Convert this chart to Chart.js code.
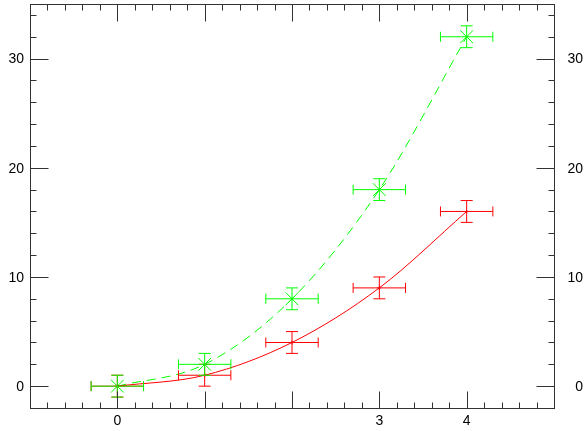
<!DOCTYPE html>
<html>
<head>
<meta charset="utf-8">
<script src="https://cdn.jsdelivr.net/npm/chart.js@4/dist/chart.umd.min.js"></script>
<style>
  html, body { margin: 0; padding: 0; background: #fff; }
  #wrap { width: 587px; height: 431px; }
</style>
</head>
<body>
<div id="wrap"><canvas id="chart" width="587" height="431"></canvas></div>
<script>
// data
const xValues = [0, 1, 2, 3, 4];
const redY = [0, 1, 4, 9, 16];
const greenY = [0, 2, 8, 18, 32];
const redXErr = [0.3, 0.3, 0.3, 0.3, 0.3];
const redYErr = [1, 1, 1, 1, 1];
const greenXErr = [0.3, 0.3, 0.3, 0.3, 0.3];
const greenYErr = [1, 1, 1, 1, 1];

// axis ticks
const xMajor = [0, 1, 2, 3, 4];
const xLabels = [0, 3, 4];
const yMajor = [0, 10, 20, 30];
const yLabels = [0, 10, 20, 30];
const xMinorStep = 0.2;
const yMinorStep = 2;

const AXIS = '#333';
const FONT = '14px "Liberation Sans", Arial, sans-serif';

function toPoints(ys, xe, ye) {
    return xValues.map((x, i) => ({ x: x, y: ys[i], xe: xe[i], ye: ye[i] }));
}

// error bars with caps, drawn through the chart scales
const errorBars = {
    id: 'errorBars',
    afterDatasetsDraw(chart) {
        const ctx = chart.ctx;
        const xs = chart.scales.x, ys = chart.scales.y;
        chart.data.datasets.forEach(ds => {
            ctx.save();
            ctx.strokeStyle = ds.borderColor;
            ctx.lineWidth = 1;
            ds.data.forEach(p => {
                const px = xs.getPixelForValue(p.x);
                const py = ys.getPixelForValue(p.y);
                const x0 = xs.getPixelForValue(p.x - p.xe);
                const x1 = xs.getPixelForValue(p.x + p.xe);
                const y0 = ys.getPixelForValue(p.y - p.ye);
                const y1 = ys.getPixelForValue(p.y + p.ye);
                ctx.beginPath();
                ctx.moveTo(x0, py); ctx.lineTo(x1, py);
                ctx.moveTo(x0, py - 5); ctx.lineTo(x0, py + 5);
                ctx.moveTo(x1, py - 5); ctx.lineTo(x1, py + 5);
                ctx.moveTo(px, y0); ctx.lineTo(px, y1);
                ctx.moveTo(px - 6, y0); ctx.lineTo(px + 6, y0);
                ctx.moveTo(px - 6, y1); ctx.lineTo(px + 6, y1);
                ctx.stroke();
            });
            ctx.restore();
        });
    }
};

// boxed frame with inward ticks on all four sides + labels
const frame = {
    id: 'frame',
    afterDraw(chart) {
        const ctx = chart.ctx;
        const a = chart.chartArea;
        const xs = chart.scales.x, ys = chart.scales.y;
        const L = Math.round(a.left) + 0.5, R = Math.round(a.right) + 0.5;
        const T = Math.round(a.top) + 0.5, B = Math.round(a.bottom) + 0.5;
        ctx.save();
        ctx.strokeStyle = AXIS;
        ctx.lineWidth = 1;
        ctx.strokeRect(L, T, R - L, B - T);
        ctx.beginPath();
        // x ticks
        for (let v = xs.min; v <= xs.max + 1e-6; v += xMinorStep) {
            const val = Math.round(v * 10) / 10;
            const len = xMajor.includes(val) ? 17 : 6;
            const px = Math.round(xs.getPixelForValue(val)) + 0.5;
            ctx.moveTo(px, B); ctx.lineTo(px, B - len);
            ctx.moveTo(px, T); ctx.lineTo(px, T + len);
        }
        // y ticks
        for (let v = ys.min; v <= ys.max + 1e-6; v += yMinorStep) {
            const len = yMajor.includes(v) ? 18 : 6;
            const py = Math.round(ys.getPixelForValue(v)) + 0.5;
            ctx.moveTo(L, py); ctx.lineTo(L + len, py);
            ctx.moveTo(R, py); ctx.lineTo(R - len, py);
        }
        ctx.stroke();

        ctx.fillStyle = '#000';
        ctx.font = FONT;
        ctx.textAlign = 'center';
        ctx.textBaseline = 'alphabetic';
        xLabels.forEach(v => ctx.fillText(String(v), xs.getPixelForValue(v), 425));
        ctx.textAlign = 'right';
        ctx.textBaseline = 'middle';
        yLabels.forEach(v => {
            const py = ys.getPixelForValue(v) + 1;
            ctx.fillText(String(v), 24, py);
            ctx.fillText(String(v), 583, py);
        });
        ctx.restore();
    }
};

new Chart(document.getElementById('chart'), {
    type: 'scatter',
    data: {
        datasets: [
            {
                label: 'red',
                data: toPoints(redY, redXErr, redYErr),
                showLine: true,
                borderColor: '#ff0000',
                backgroundColor: '#ff0000',
                borderWidth: 1,
                cubicInterpolationMode: 'monotone',
                pointStyle: 'cross',
                pointRadius: 2,
                pointBorderWidth: 1
            },
            {
                label: 'green',
                data: toPoints(greenY, greenXErr, greenYErr),
                showLine: true,
                borderColor: '#00ff00',
                backgroundColor: '#00ff00',
                borderWidth: 1,
                borderDash: [9, 6],
                cubicInterpolationMode: 'monotone',
                pointStyle: 'crossRot',
                pointRadius: 9,
                pointBorderWidth: 1
            }
        ]
    },
    options: {
        responsive: false,
        animation: false,
        devicePixelRatio: 1,
        layout: { autoPadding: false, padding: { left: 30, right: 33, top: 4, bottom: 23 } },
        plugins: {
            legend: { display: false },
            tooltip: { enabled: false }
        },
        scales: {
            x: { type: 'linear', min: -1, max: 5, display: false },
            y: { type: 'linear', min: -2, max: 35, display: false }
        }
    },
    plugins: [errorBars, frame]
});
</script>
</body>
</html>
